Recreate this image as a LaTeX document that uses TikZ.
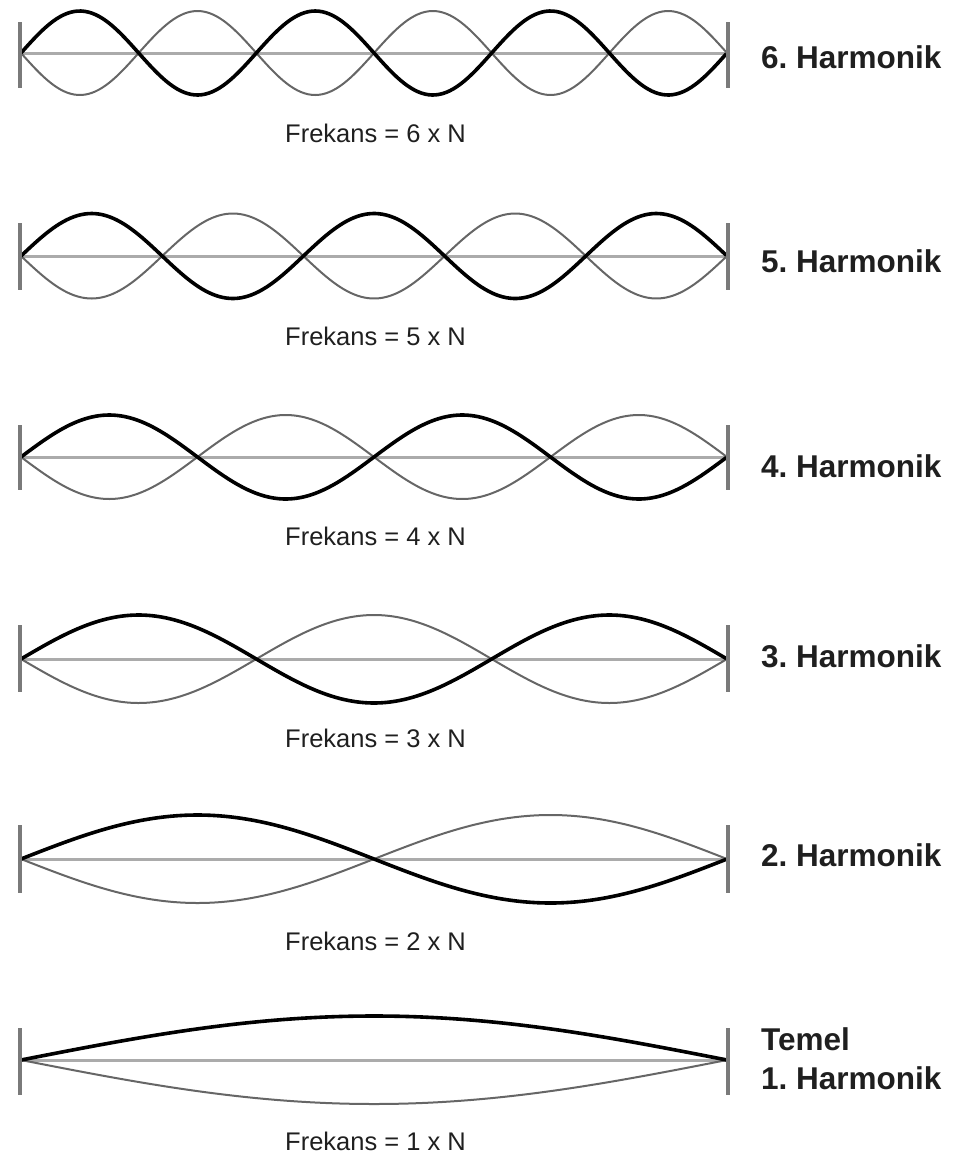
\documentclass[tikz,border=0pt]{standalone}
\usepackage{fontspec}
\setmainfont{Liberation Sans}
\usepackage{tikz}

\begin{document}
\begin{tikzpicture}[x=1pt, y=-1pt,
        endbar/.style = {draw=black!52, line width=3.5pt},
        midline/.style = {draw=black!33, line width=3pt},
        wavea/.style = {draw=black, line width=3.6pt, line join=round},
        waveb/.style = {draw=black!60, line width=2pt, line join=round},
        harm/.style = {anchor=base west, inner sep=0pt, text=black!88, align=left,
            font=\fontsize{31.5}{39}\selectfont\bfseries\frenchspacing},
        freq/.style = {anchor=base west, inner sep=0pt, text=black!88,
            font=\fontsize{25.5}{30}\selectfont}]
    \useasboundingbox (0,0) rectangle (953,1160);

    % 6
    \draw[midline] (21,53) -- (727,53);
    \draw[waveb] plot[domain=0:1, samples=200] ({21+706*\x}, {53+42*sin(6*180*\x)});
    \draw[wavea] plot[domain=0:1, samples=200] ({21+706*\x}, {53-42*sin(6*180*\x)});
    \draw[endbar] (20,22) -- (20,88);
    \draw[endbar] (728,22) -- (728,88);
    \node[harm] (H6) at (761,68) {6. Harmonik};
    \node[freq] (F6) at (285,142) {Frekans = 6 x N};

    % 5
    \draw[midline] (21,256) -- (727,256);
    \draw[waveb] plot[domain=0:1, samples=200] ({21+706*\x}, {256+42.5*sin(5*180*\x)});
    \draw[wavea] plot[domain=0:1, samples=200] ({21+706*\x}, {256-42.5*sin(5*180*\x)});
    \draw[endbar] (20,223) -- (20,290);
    \draw[endbar] (728,223) -- (728,290);
    \node[harm] (H5) at (761,272) {5. Harmonik};
    \node[freq] (F5) at (285,345) {Frekans = 5 x N};

    % 4
    \draw[midline] (21,457) -- (727,457);
    \draw[waveb] plot[domain=0:1, samples=200] ({21+706*\x}, {457+42*sin(4*180*\x)});
    \draw[wavea] plot[domain=0:1, samples=200] ({21+706*\x}, {457-42*sin(4*180*\x)});
    \draw[endbar] (20,425) -- (20,490);
    \draw[endbar] (728,425) -- (728,490);
    \node[harm] (H4) at (761,477) {4. Harmonik};
    \node[freq] (F4) at (285,545) {Frekans = 4 x N};

    % 3
    \draw[midline] (21,659) -- (727,659);
    \draw[waveb] plot[domain=0:1, samples=200] ({21+706*\x}, {659+44*sin(3*180*\x)});
    \draw[wavea] plot[domain=0:1, samples=200] ({21+706*\x}, {659-44*sin(3*180*\x)});
    \draw[endbar] (20,625) -- (20,692);
    \draw[endbar] (728,625) -- (728,692);
    \node[harm] (H3) at (761,667) {3. Harmonik};
    \node[freq] (F3) at (285,747) {Frekans = 3 x N};

    % 2
    \draw[midline] (21,859) -- (727,859);
    \draw[waveb] plot[domain=0:1, samples=200] ({21+706*\x}, {859+44*sin(2*180*\x)});
    \draw[wavea] plot[domain=0:1, samples=200] ({21+706*\x}, {859-44*sin(2*180*\x)});
    \draw[endbar] (20,825) -- (20,893);
    \draw[endbar] (728,825) -- (728,893);
    \node[harm] (H2) at (761,866) {2. Harmonik};
    \node[freq] (F2) at (285,950) {Frekans = 2 x N};

    % 1
    \draw[midline] (21,1060) -- (727,1060);
    \draw[waveb] plot[domain=0:1, samples=200] ({21+706*\x}, {1060+44*sin(180*\x)});
    \draw[wavea] plot[domain=0:1, samples=200] ({21+706*\x}, {1060-44*sin(180*\x)});
    \draw[endbar] (20,1028) -- (20,1095);
    \draw[endbar] (728,1028) -- (728,1095);
    \node[harm] (H1) at (761,1089) {Temel\\1. Harmonik};
    \node[freq] (F1) at (285,1150) {Frekans = 1 x N};
\end{tikzpicture}
\end{document}
